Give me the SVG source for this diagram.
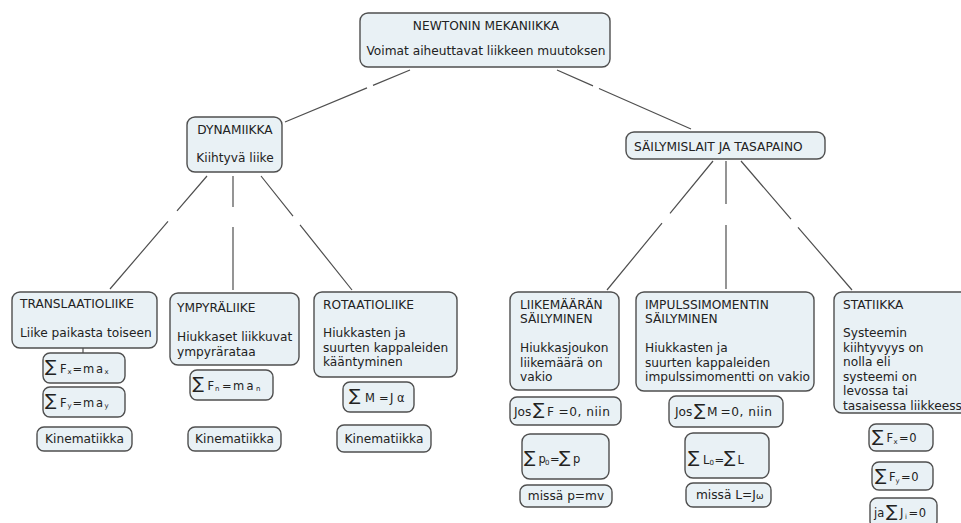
<svg xmlns="http://www.w3.org/2000/svg" width="961" height="523" viewBox="0 0 961 523">
<style>
.box{fill:#e9f1f5;stroke:#4f4f4f;stroke-width:1.4}
.t{font-family:"DejaVu Sans",Verdana,sans-serif;font-size:12.2px;fill:#222222}
.f{font-family:"DejaVu Sans",Verdana,sans-serif;font-size:11.5px;fill:#222222}
.sig{font-size:17px}
.sub{font-size:7px}
.c{text-anchor:middle}
.link{stroke:#4f4f4f;stroke-width:1.2;fill:none}
</style>
<rect width="961" height="523" fill="#ffffff"/>

<!-- connectors (each line has a short break where a label would sit) -->
<g id="connectors" class="link">
  <path d="M410,70 L373,85.4 M367,87.9 L285,122"/>
  <path d="M557,70 L593,85.9 M599,88.5 L691,129"/>
  <path d="M207,176 L177,210.9 M168,221.4 L110,289"/>
  <path d="M233,176 L233,207 M233,227 L233,290"/>
  <path d="M261,176 L293,216.1 M300,224.9 L352,290"/>
  <path d="M713,161 L670,213.3 M662,223.1 L607,290"/>
  <path d="M726,161 L726,204 M726,225 L726,289"/>
  <path d="M741,161 L791,219.1 M798,227.3 L852,290"/>
  <path d="M83,348 L83,353"/>
</g>

<!-- root -->
<g id="newtonin-mekaniikka">
  <rect class="box" x="360" y="13" width="250" height="54" rx="8"/>
  <text class="t c" x="486" y="30">NEWTONIN MEKANIIKKA</text>
  <text class="t c" x="486" y="55">Voimat aiheuttavat liikkeen muutoksen</text>
</g>

<!-- second level -->
<g id="dynamiikka">
  <rect class="box" x="187" y="117" width="95" height="55" rx="8"/>
  <text class="t c" x="235" y="134">DYNAMIIKKA</text>
  <text class="t c" x="235" y="162">Kiihtyvä liike</text>
</g>
<g id="sailymislait">
  <rect class="box" x="626" y="132" width="199" height="27" rx="8"/>
  <text class="t" x="634" y="151">SÄILYMISLAIT JA TASAPAINO</text>
</g>

<!-- dynamics branch -->
<g id="translaatioliike">
  <rect class="box" x="12" y="292" width="145" height="56" rx="8"/>
  <text class="t" x="20" y="308">TRANSLAATIOLIIKE</text>
  <text class="t" x="20" y="337">Liike paikasta toiseen</text>
</g>
<g id="kaava-fx">
  <rect class="box" x="43" y="353" width="82" height="30" rx="7"/>
  <text class="f" y="372.5"><tspan class="sig" x="45" dy="-0.5">∑</tspan><tspan x="60" dy="0.5">F</tspan><tspan class="sub" x="67.5" dy="1.5">x</tspan><tspan x="72.5" dy="-1.5">=</tspan><tspan x="83">m</tspan><tspan x="96">a</tspan><tspan class="sub" x="104.5" dy="1.5">x</tspan></text>
</g>
<g id="kaava-fy">
  <rect class="box" x="43" y="387" width="82" height="30" rx="7"/>
  <text class="f" y="406.5"><tspan class="sig" x="45" dy="-0.5">∑</tspan><tspan x="60" dy="0.5">F</tspan><tspan class="sub" x="67.5" dy="1.5">y</tspan><tspan x="72.5" dy="-1.5">=</tspan><tspan x="83">m</tspan><tspan x="96">a</tspan><tspan class="sub" x="104.5" dy="1.5">y</tspan></text>
</g>
<g id="kinematiikka-1">
  <rect class="box" x="37" y="427" width="95" height="24" rx="7"/>
  <text class="t c" x="84.5" y="443">Kinematiikka</text>
</g>

<g id="ympyraliike">
  <rect class="box" x="170" y="293" width="129" height="72" rx="8"/>
  <text class="t" x="177" y="312">YMPYRÄLIIKE</text>
  <text class="t" x="177" y="341">Hiukkaset liikkuvat</text>
  <text class="t" x="177" y="355.5">ympyrärataa</text>
</g>
<g id="kaava-fn">
  <rect class="box" x="190" y="370" width="83" height="30" rx="7"/>
  <text class="f" y="389.5"><tspan class="sig" x="192.5" dy="-0.5">∑</tspan><tspan x="207.5" dy="0.5">F</tspan><tspan class="sub" x="215" dy="1.5">n</tspan><tspan x="222" dy="-1.5">=</tspan><tspan x="233">m</tspan><tspan x="246.5">a</tspan><tspan class="sub" x="256" dy="1.5">n</tspan></text>
</g>
<g id="kinematiikka-2">
  <rect class="box" x="188" y="427" width="93" height="24" rx="7"/>
  <text class="t c" x="234.5" y="443">Kinematiikka</text>
</g>

<g id="rotaatioliike">
  <rect class="box" x="314" y="292" width="143" height="85" rx="8"/>
  <text class="t" x="323" y="308.5">ROTAATIOLIIKE</text>
  <text class="t" x="323" y="337">Hiukkasten ja</text>
  <text class="t" x="323" y="351.5">suurten kappaleiden</text>
  <text class="t" x="323" y="366">kääntyminen</text>
</g>
<g id="kaava-m">
  <rect class="box" x="343" y="382" width="71" height="30" rx="7"/>
  <text class="f" y="401.5"><tspan class="sig" x="349" dy="-0.5">∑</tspan><tspan x="365" dy="0.5">M</tspan><tspan x="379">=</tspan><tspan x="390">J</tspan><tspan x="397">α</tspan></text>
</g>
<g id="kinematiikka-3">
  <rect class="box" x="337" y="425" width="94" height="27" rx="7"/>
  <text class="t c" x="384" y="443">Kinematiikka</text>
</g>

<!-- conservation branch -->
<g id="liikemaaran-sailyminen">
  <rect class="box" x="510" y="292" width="109" height="98" rx="8"/>
  <text class="t" x="520" y="308.5">LIIKEMÄÄRÄN</text>
  <text class="t" x="520" y="323">SÄILYMINEN</text>
  <text class="t" x="520" y="352">Hiukkasjoukon</text>
  <text class="t" x="520" y="366.5">liikemäärä on</text>
  <text class="t" x="520" y="381">vakio</text>
</g>
<g id="ehto-f">
  <rect class="box" x="510" y="397" width="111" height="28" rx="7"/>
  <text class="t" y="415.5"><tspan x="514">Jos</tspan><tspan class="sig" x="533" dy="-0.5">∑</tspan><tspan x="547" dy="0.5">F</tspan><tspan x="558.5" letter-spacing="0.5">=0, niin</tspan></text>
</g>
<g id="kaava-p">
  <rect class="box" x="522" y="434" width="87" height="45" rx="8"/>
  <text class="f" y="463"><tspan class="sig" x="524" dy="-0.5">∑</tspan><tspan x="538.5" dy="0.5">p</tspan><tspan class="sub" x="545" dy="1.5">0</tspan><tspan x="550" dy="-1.5">=</tspan><tspan class="sig" x="559" dy="-0.5">∑</tspan><tspan x="573" dy="0.5">p</tspan></text>
</g>
<g id="p-mv">
  <rect class="box" x="520" y="485" width="92" height="22" rx="7"/>
  <text class="t c" x="566" y="500">missä p=mv</text>
</g>

<g id="impulssimomentin-sailyminen">
  <rect class="box" x="636" y="292" width="178" height="99" rx="8"/>
  <text class="t" x="645" y="308.5">IMPULSSIMOMENTIN</text>
  <text class="t" x="645" y="323">SÄILYMINEN</text>
  <text class="t" x="645" y="352">Hiukkasten ja</text>
  <text class="t" x="645" y="366.5">suurten kappaleiden</text>
  <text class="t" x="645" y="381">impulssimomentti on vakio</text>
</g>
<g id="ehto-m">
  <rect class="box" x="669" y="396" width="114" height="31" rx="7"/>
  <text class="t" y="416"><tspan x="675">Jos</tspan><tspan class="sig" x="694" dy="-0.5">∑</tspan><tspan x="707" dy="0.5">M</tspan><tspan x="720.5" letter-spacing="0.5">=0, niin</tspan></text>
</g>
<g id="kaava-l">
  <rect class="box" x="685" y="433" width="84" height="45" rx="8"/>
  <text class="f" y="463.5"><tspan class="sig" x="688" dy="-0.5">∑</tspan><tspan x="703" dy="0.5">L</tspan><tspan class="sub" x="709.5" dy="1.5">0</tspan><tspan x="714.5" dy="-1.5">=</tspan><tspan class="sig" x="724" dy="-0.5">∑</tspan><tspan x="737.5" dy="0.5">L</tspan></text>
</g>
<g id="l-jw">
  <rect class="box" x="686" y="483" width="85" height="24" rx="7"/>
  <text class="t" x="696" y="499">missä L=J<tspan font-size="9px">ω</tspan></text>
</g>

<g id="statiikka">
  <rect class="box" x="834" y="292" width="140" height="121" rx="8"/>
  <text class="t" x="843" y="308.5">STATIIKKA</text>
  <text class="t" x="843" y="337">Systeemin</text>
  <text class="t" x="843" y="351.5">kiihtyvyys on</text>
  <text class="t" x="843" y="366">nolla eli</text>
  <text class="t" x="843" y="380.5">systeemi on</text>
  <text class="t" x="843" y="395">levossa tai</text>
  <text class="t" x="843" y="409.5">tasaisessa liikkeessä</text>
</g>
<g id="kaava-sfx">
  <rect class="box" x="869" y="424" width="64" height="27" rx="7"/>
  <text class="f" y="442"><tspan class="sig" x="872" dy="-0.5">∑</tspan><tspan x="886.5" dy="0.5">F</tspan><tspan class="sub" x="893.5" dy="1.5">x</tspan><tspan x="899" dy="-1.5" letter-spacing="0.5">=0</tspan></text>
</g>
<g id="kaava-sfy">
  <rect class="box" x="872" y="462" width="61" height="28" rx="7"/>
  <text class="f" y="481"><tspan class="sig" x="875" dy="-0.5">∑</tspan><tspan x="889" dy="0.5">F</tspan><tspan class="sub" x="895.5" dy="1.5">y</tspan><tspan x="901" dy="-1.5" letter-spacing="0.5">=0</tspan></text>
</g>
<g id="kaava-sj">
  <rect class="box" x="870" y="498" width="67" height="30" rx="7"/>
  <text class="f" y="517"><tspan x="874">ja</tspan><tspan class="sig" x="886" dy="-0.5">∑</tspan><tspan x="900" dy="0.5">J</tspan><tspan class="sub" x="905" dy="1.5">i</tspan><tspan x="908.5" dy="-1.5" letter-spacing="0.5">=0</tspan></text>
</g>
</svg>
